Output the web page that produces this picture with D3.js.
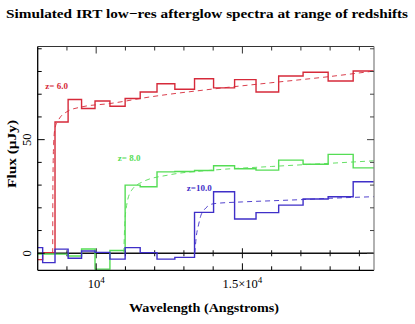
<!DOCTYPE html>
<html><head><meta charset="utf-8">
<script src="https://cdn.jsdelivr.net/npm/d3@7"></script>
<style>
html,body{margin:0;padding:0;background:#fff;}
svg{display:block;}
text{font-family:"Liberation Serif","DejaVu Serif",serif;fill:#000;}
</style></head>
<body>
<script>
// ---- data ----
const title = "Simulated IRT low\u2212res afterglow spectra at range of redshifts";
const xLabel = "Wavelength (Angstroms)";
const yLabel = "Flux (\u03bcJy)";
const binEdges = [8000, 8170, 8592, 9040, 9500, 9960, 10470, 10990, 11505, 12080, 12690, 13363, 14014, 14733, 15466, 16240, 17075, 17932, 18788, 19500];
const fluxZ6  = [-2.8, 0.3, 57.8, 67.7, 63.7, 67.0, 64.7, 68.1, 71.0, 74.6, 72.2, 76.8, 72.8, 76.4, 71.0, 78.0, 79.7, 75.8, 80.2];
const fluxZ8  = [-0.3, -0.3, -0.4, -1.2, 1.9, -7.0, 1.2, 30.0, 29.3, 35.8, 36.0, 36.4, 38.5, 37.2, 36.6, 41.0, 39.2, 43.5, 37.6];
const fluxZ10 = [2.5, -4.1, 1.8, -2.2, 1.0, 0.4, -2.6, 2.5, 0.3, -2.6, -1.8, 18.0, 27.1, 15.1, 17.9, 21.2, 23.9, 24.9, 31.5];
const modelZ6  = [[8513,0],[8520,30],[8545,48],[8590,55],[8705,58.5],[9000,62.3],[9500,64.4],[10470,65.9],[11840,68.8],[14000,72.3],[15950,75.0],[18000,77.8],[19500,80.2]];
const modelZ8  = [[10944,0],[10975,12],[11040,21],[11200,27.5],[11600,31.5],[12500,34.5],[14000,36.6],[16000,38.2],[18000,39.6],[19500,40.7]];
const modelZ10 = [[13372,0],[13420,7],[13500,12.5],[13612,17.6],[14010,21.8],[15000,22.6],[16000,23.1],[17000,23.6],[18000,24.2],[19500,24.9]];
const seriesLabels = ["z= 6.0", "z= 8.0", "z=10.0"];
const labelAnchors = [[8260, 72.5], [10740, 40.5], [13100, 27.5]];
const xMinorTicks = [9000,10000,11000,12000,13000,14000,15000,16000,17000,18000,19000];
const xMajorTicks = [10000, 15000];
const yMinorTicks = [0,10,20,30,40,50,60,70,80,90];
const yMajorTicks = [0, 50];

const colors = ["#d62a3a", "#55dd55", "#3f2fc8"];

const W = 415, H = 324;
const L = 37.7, R = 374, T = 46.5, B = 270.3;
const svg = d3.select("body").append("svg").attr("width", W).attr("height", H);
const x = d3.scaleLinear().domain([8000, 19500]).range([L, R]);
const y = d3.scaleLinear().domain([-7.5, 91]).range([B, T]);

// title
svg.append("text").attr("x", 207).attr("y", 18).attr("text-anchor", "middle")
  .attr("font-size", 13.5).attr("font-weight", "bold")
  .attr("textLength", 402).attr("lengthAdjust", "spacingAndGlyphs").text(title);

const g = svg.append("g");

// zero line with ticks
g.append("line").attr("x1", L).attr("x2", R).attr("y1", y(0)).attr("y2", y(0))
  .attr("stroke", "#111").attr("stroke-width", 1.3);
xMinorTicks.forEach(t => {
  const maj = xMajorTicks.includes(t);
  const len = maj ? 5 : 3;
  g.append("line").attr("x1", x(t)).attr("x2", x(t)).attr("y1", y(0) - len).attr("y2", y(0) + len)
    .attr("stroke", "#111").attr("stroke-width", 1);
});

// models (dashed)
const lineM = d3.line().x(d => x(d[0])).y(d => y(d[1])).curve(d3.curveMonotoneX);
[modelZ6, modelZ8, modelZ10].forEach((m, i) => {
  g.append("path").attr("d", lineM(m)).attr("fill", "none")
    .attr("stroke", colors[i]).attr("stroke-width", 1).attr("stroke-dasharray", "5,4").attr("opacity", 0.9);
});

// histograms
const lineH = d3.line().x(d => x(d[0])).y(d => y(d[1])).curve(d3.curveStepAfter);
[fluxZ6, fluxZ8, fluxZ10].forEach((vals, i) => {
  const pts = vals.map((v, k) => [binEdges[k], v]);
  pts.push([binEdges[binEdges.length - 1], vals[vals.length - 1]]);
  g.append("path").attr("d", lineH(pts)).attr("fill", "none")
    .attr("stroke", colors[i]).attr("stroke-width", 1.4);
});

// series labels
seriesLabels.forEach((s, i) => {
  svg.append("text").attr("x", x(labelAnchors[i][0])).attr("y", y(labelAnchors[i][1]))
    .attr("font-size", 9).attr("font-weight", "bold")
    .style("fill", colors[i]).text(s);
});

// frame
svg.append("line").attr("x1", L).attr("x2", R).attr("y1", B).attr("y2", B).attr("stroke", "#000").attr("stroke-width", 1.3);
svg.append("line").attr("x1", L).attr("x2", L).attr("y1", T).attr("y2", B).attr("stroke", "#000").attr("stroke-width", 1.3);
svg.append("line").attr("x1", L).attr("x2", R).attr("y1", T).attr("y2", T).attr("stroke", "#333").attr("stroke-width", 1);
svg.append("line").attr("x1", R).attr("x2", R).attr("y1", T).attr("y2", B).attr("stroke", "#888").attr("stroke-width", 1.3);

// x ticks (bottom & top, inward)
xMinorTicks.forEach(t => {
  const len = xMajorTicks.includes(t) ? 7 : 4;
  svg.append("line").attr("x1", x(t)).attr("x2", x(t)).attr("y1", B).attr("y2", B - len).attr("stroke", "#000");
  svg.append("line").attr("x1", x(t)).attr("x2", x(t)).attr("y1", T).attr("y2", T + len).attr("stroke", "#333");
});
// y ticks (left & right, inward)
yMinorTicks.forEach(t => {
  const len = yMajorTicks.includes(t) ? 7 : 4;
  svg.append("line").attr("x1", L).attr("x2", L + len).attr("y1", y(t)).attr("y2", y(t)).attr("stroke", "#000");
  svg.append("line").attr("x1", R).attr("x2", R - len).attr("y1", y(t)).attr("y2", y(t)).attr("stroke", "#444");
});

// x tick labels
const xl1 = svg.append("text").attr("x", x(10000)).attr("y", 288).attr("text-anchor", "middle").attr("font-size", 12.5);
xl1.append("tspan").text("10");
xl1.append("tspan").attr("dy", -5).attr("font-size", 9).text("4");
const xl2 = svg.append("text").attr("x", x(15000)).attr("y", 288).attr("text-anchor", "middle").attr("font-size", 12.5);
xl2.append("tspan").text("1.5\u00d710");
xl2.append("tspan").attr("dy", -5).attr("font-size", 9).text("4");

// y tick labels (rotated)
yMajorTicks.forEach(t => {
  svg.append("text").attr("transform", `translate(31,${y(t)}) rotate(-90)`).attr("text-anchor", "middle")
    .attr("font-size", 12.5).text(String(t));
});

// axis titles
svg.append("text").attr("x", 204).attr("y", 312).attr("text-anchor", "middle")
  .attr("font-size", 13).attr("font-weight", "bold")
  .attr("textLength", 150).attr("lengthAdjust", "spacingAndGlyphs").text(xLabel);
svg.append("text").attr("transform", "translate(16,154) rotate(-90)").attr("text-anchor", "middle")
  .attr("font-size", 13).attr("font-weight", "bold")
  .attr("textLength", 68).attr("lengthAdjust", "spacingAndGlyphs").text(yLabel);
</script>
</body></html>
